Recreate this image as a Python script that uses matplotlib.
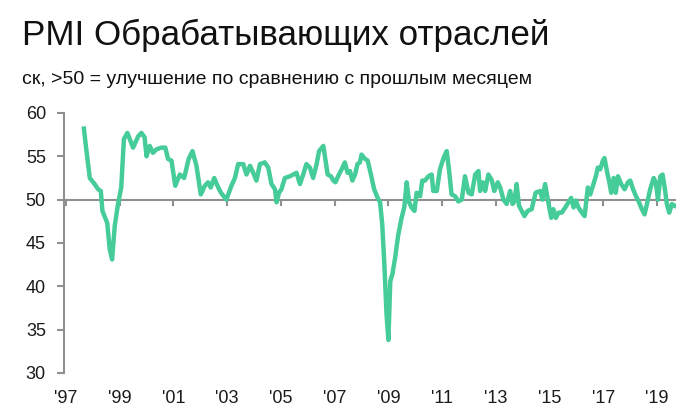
import matplotlib
matplotlib.use("Agg")
import matplotlib.pyplot as plt

# PMI values (decimal year, index)
years = [1997.67, 1997.76, 1997.89, 1998.07, 1998.20, 1998.30, 1998.36, 1998.54, 1998.63, 1998.72,
         1998.82, 1998.94, 1999.06, 1999.16, 1999.29, 1999.50, 1999.69, 1999.81, 1999.93, 2000.00,
         2000.12, 2000.24, 2000.37, 2000.55, 2000.70, 2000.80, 2000.93, 2001.07, 2001.24, 2001.40,
         2001.57, 2001.71, 2001.86, 2002.02, 2002.17, 2002.29, 2002.39, 2002.52, 2002.64, 2002.77,
         2002.97, 2003.16, 2003.29, 2003.41, 2003.60, 2003.72, 2003.85, 2003.97, 2004.09, 2004.22,
         2004.40, 2004.53, 2004.65, 2004.78, 2004.84, 2004.93, 2005.02, 2005.15, 2005.34, 2005.46,
         2005.58, 2005.71, 2005.83, 2005.95, 2006.08, 2006.20, 2006.33, 2006.42, 2006.58, 2006.74,
         2006.86, 2006.95, 2007.03, 2007.16, 2007.26, 2007.38, 2007.48, 2007.57, 2007.66, 2007.76,
         2007.85, 2007.94, 2008.00, 2008.13, 2008.23, 2008.35, 2008.47, 2008.60, 2008.69, 2008.77,
         2008.85, 2008.93, 2009.00, 2009.07, 2009.15, 2009.25, 2009.37, 2009.49, 2009.59, 2009.68,
         2009.77, 2009.86, 2009.97, 2010.05, 2010.18, 2010.26, 2010.36, 2010.49, 2010.61, 2010.67,
         2010.80, 2010.92, 2011.05, 2011.17, 2011.26, 2011.35, 2011.48, 2011.60, 2011.73, 2011.85,
         2011.98, 2012.10, 2012.23, 2012.35, 2012.41, 2012.51, 2012.60, 2012.72, 2012.84, 2012.94,
         2013.07, 2013.16, 2013.28, 2013.40, 2013.53, 2013.62, 2013.69, 2013.77, 2013.86, 2013.96,
         2014.06, 2014.18, 2014.33, 2014.48, 2014.65, 2014.73, 2014.83, 2014.96, 2015.06, 2015.14,
         2015.23, 2015.33, 2015.45, 2015.58, 2015.70, 2015.80, 2015.89, 2015.97, 2016.07, 2016.20,
         2016.30, 2016.42, 2016.51, 2016.63, 2016.72, 2016.79, 2016.88, 2016.98, 2017.04, 2017.13,
         2017.22, 2017.29, 2017.38, 2017.46, 2017.54, 2017.66, 2017.79, 2017.91, 2018.00, 2018.08,
         2018.21, 2018.31, 2018.43, 2018.53, 2018.62, 2018.74, 2018.87, 2018.95, 2019.03, 2019.12,
         2019.20, 2019.28, 2019.36, 2019.45, 2019.55, 2019.65]
pmi = [58.2, 55.8, 52.5, 51.8, 51.2, 51.0, 48.7, 47.3, 44.3, 43.1,
       47.0, 49.5, 51.4, 57.0, 57.7, 56.0, 57.3, 57.7, 57.2, 55.0,
       56.2, 55.4, 55.8, 56.0, 56.0, 54.7, 54.5, 51.6, 52.9, 52.5,
       54.7, 55.6, 53.9, 50.6, 51.6, 52.0, 51.4, 52.5, 51.6, 50.8,
       50.0, 51.6, 52.5, 54.1, 54.1, 52.9, 53.9, 53.1, 52.2, 54.1,
       54.3, 53.7, 51.8, 51.2, 49.7, 50.8, 51.2, 52.5, 52.7, 52.9,
       53.1, 51.8, 52.9, 54.1, 53.7, 52.5, 54.1, 55.6, 56.2, 52.9,
       52.7, 52.2, 52.0, 52.9, 53.5, 54.3, 53.1, 53.3, 52.2, 52.9,
       54.1, 54.3, 55.2, 54.7, 54.5, 52.9, 51.2, 50.2, 49.7, 47.2,
       42.5, 36.8, 33.8, 40.6, 41.4, 43.3, 46.0, 47.9, 49.1, 52.0,
       49.7, 49.1, 48.7, 50.8, 50.4, 52.2, 52.2, 52.7, 52.9, 51.0,
       51.0, 53.5, 54.8, 55.6, 53.3, 50.6, 50.4, 49.8, 50.0, 52.7,
       50.8, 50.6, 52.9, 53.3, 51.0, 52.0, 51.0, 52.9, 52.3, 51.0,
       52.0, 51.4, 50.0, 49.5, 51.0, 49.5, 49.8, 51.8, 49.3, 48.7,
       48.1, 48.7, 48.9, 50.8, 51.0, 50.0, 51.8, 49.5, 47.9, 48.9,
       47.9, 48.5, 48.5, 49.1, 49.7, 50.2, 49.1, 49.9, 49.1, 48.5,
       48.1, 51.4, 50.6, 51.8, 52.7, 53.7, 53.5, 54.5, 54.8, 53.3,
       52.0, 50.8, 52.5, 50.8, 52.7, 51.8, 51.2, 52.0, 52.2, 51.4,
       50.4, 49.8, 48.9, 48.3, 49.5, 51.2, 52.5, 52.0, 50.0, 52.7,
       52.9, 51.4, 49.5, 48.5, 49.5, 49.3]

tick_years = list(range(1997, 2020, 2))
tick_labels = ["'%02d" % (y % 100) for y in tick_years]
y_ticks = [30, 35, 40, 45, 50, 55, 60]

title = "PMI Обрабатывающих отраслей"
subtitle = "ск, >50 = улучшение по сравнению с прошлым месяцем"

plt.rcParams['font.family'] = ['Liberation Sans', 'DejaVu Sans']

line_col = '#45cc98'
grey = '#8f8f8f'

fig = plt.figure(figsize=(7, 4.18), dpi=100)
ax = fig.add_axes([0.0914, 0.1077, 0.8743, 0.622])

ax.axhline(50, color=grey, lw=1.5, zorder=1)
for yr in tick_years:
    ax.plot([yr, yr], [50, 49.35], color=grey, lw=1.5, zorder=1)
ax.plot(years, pmi, color=line_col, lw=3.2, solid_joinstyle='round', zorder=3)

ax.set_xlim(1996.93, 2019.7)
ax.set_ylim(30, 60)
ax.set_yticks(y_ticks)
ax.set_xticks(tick_years)
ax.set_xticklabels(tick_labels)

for s in ['top', 'right', 'bottom']:
    ax.spines[s].set_visible(False)
ax.spines['left'].set_color(grey)
ax.spines['left'].set_linewidth(1.5)
ax.tick_params(axis='y', colors=grey, length=5, width=1.5, pad=8, labelsize=13, labelcolor='#1a1a1a')
ax.tick_params(axis='x', length=0, pad=12, labelsize=13, labelcolor='#1a1a1a')

fig.text(0.031, 0.893, title, fontsize=25.2, color='#111111')
fig.text(0.031, 0.8, subtitle, fontsize=14, color='#111111')

fig.savefig('out.png', dpi=100)
